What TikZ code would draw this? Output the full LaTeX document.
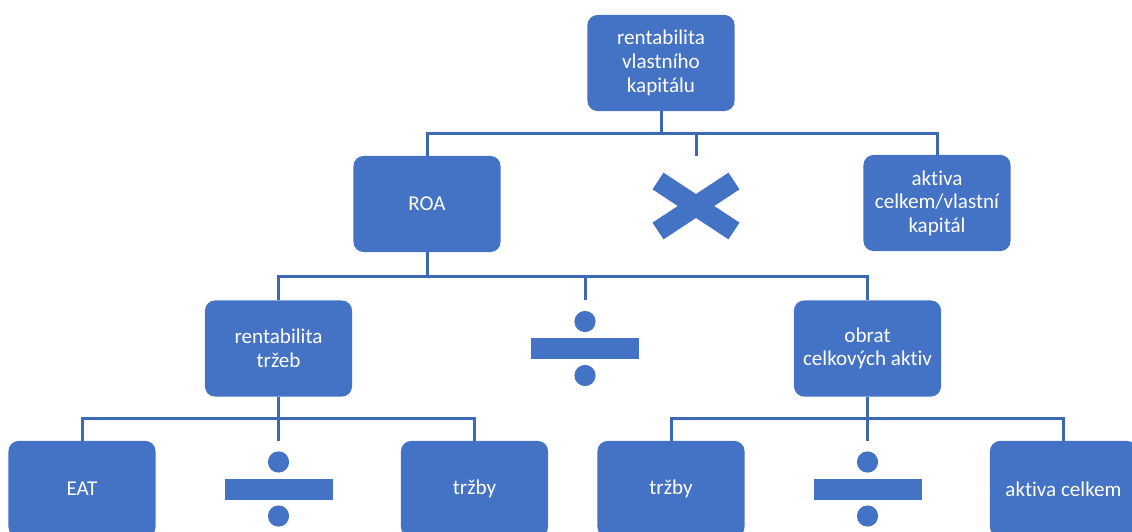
\documentclass[tikz,border=0pt]{standalone}
\usepackage{fontspec}
\setmainfont{Carlito}[Ligatures=NoCommon]
\definecolor{boxblue}{HTML}{4472C4}
\definecolor{lineblue}{HTML}{3D68B4}
\begin{document}
\begin{tikzpicture}
    [x=0.025cm, y=-0.025cm,
    BoxNode/.style={rectangle, rounded corners=0.25cm, fill=boxblue, text=white, align=center,
      minimum width=3.675cm, minimum height=2.4cm, font=\fontsize{15}{16.8}\selectfont},
    OpNode/.style={rectangle, minimum width=3.675cm, minimum height=2.4cm},
    Link/.style={draw=lineblue, line width=0.075cm},
    Sign/.style={fill=boxblue}]
     \useasboundingbox (0,0) rectangle (1132,532);
     \node[BoxNode] (n0) at (661, 63){rentabilita\\vlastního\\kapitálu};
     \node[BoxNode] (n1) at (427, 204){ROA};
     \node[OpNode] (TimesSign) at (696, 204){};
     \node[BoxNode] (n2) at (937, 203){aktiva\\celkem/vlastní\\kapitál};
     \node[BoxNode] (n3) at (278.5, 348.5){rentabilita\\tržeb};
     \node[OpNode] (DivSignA) at (585, 348.5){};
     \node[BoxNode] (n4) at (867.5, 348.5){obrat\\celkových aktiv};
     \node[BoxNode] (n5) at (82, 489){EAT};
     \node[OpNode] (DivSignB) at (278.5, 489){};
     \node[BoxNode] (n6) at (474.5, 489){tržby};
     \node[BoxNode] (n7) at (671, 489){tržby};
     \node[OpNode] (DivSignC) at (867.5, 489){};
     \node[BoxNode] (n8) at (1063.5, 489){aktiva celkem};
     \draw[Link] (n0.south) -- ++(0,22) -| (n1.north);
     \draw[Link] (n0.south) -- ++(0,22) -| (TimesSign.north);
     \draw[Link] (n0.south) -- ++(0,22) -| (n2.north);
     \draw[Link] (n1.south) -- ++(0,24) -| (n3.north);
     \draw[Link] (n1.south) -- ++(0,24) -| (DivSignA.north);
     \draw[Link] (n1.south) -- ++(0,24) -| (n4.north);
     \draw[Link] (n3.south) -- ++(0,22) -| (n5.north);
     \draw[Link] (n3.south) -- ++(0,22) -| (DivSignB.north);
     \draw[Link] (n3.south) -- ++(0,22) -| (n6.north);
     \draw[Link] (n4.south) -- ++(0,22) -| (n7.north);
     \draw[Link] (n4.south) -- ++(0,22) -| (DivSignC.north);
     \draw[Link] (n4.south) -- ++(0,22) -| (n8.north);
     \draw[boxblue, line width=0.5cm] (TimesSign.center) ++(-38,-23) -- ++(76,50);
     \draw[boxblue, line width=0.5cm] (TimesSign.center) ++(-38,27) -- ++(76,-50);
     \fill[Sign] (DivSignA.center) ++(-54,-10.5) rectangle ++(108,21);
     \fill[Sign] (DivSignA.center) ++(0,-27) circle[radius=0.265cm];
     \fill[Sign] (DivSignA.center) ++(0,27) circle[radius=0.265cm];
     \fill[Sign] (DivSignB.center) ++(-54,-10.5) rectangle ++(108,21);
     \fill[Sign] (DivSignB.center) ++(0,-27) circle[radius=0.265cm];
     \fill[Sign] (DivSignB.center) ++(0,27) circle[radius=0.265cm];
     \fill[Sign] (DivSignC.center) ++(-54,-10.5) rectangle ++(108,21);
     \fill[Sign] (DivSignC.center) ++(0,-27) circle[radius=0.265cm];
     \fill[Sign] (DivSignC.center) ++(0,27) circle[radius=0.265cm];
\end{tikzpicture}
\end{document}
